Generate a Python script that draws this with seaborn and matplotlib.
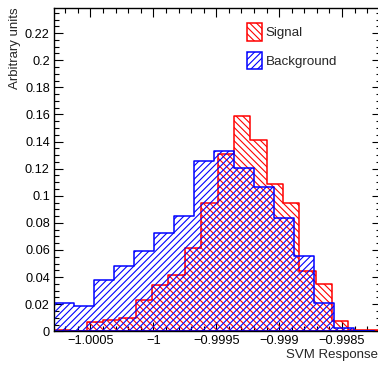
import numpy as np
import pandas as pd
import matplotlib
matplotlib.use("Agg")
import matplotlib.pyplot as plt
import seaborn as sns
from matplotlib.patches import Patch
from matplotlib.ticker import FixedLocator, FixedFormatter, MultipleLocator

# ---- data ----
x_min = -1.00079
signal_max = -0.99819
background_max = -0.998246
signal_values = [0.001, 0.0, 0.0071, 0.0083, 0.0096, 0.0231, 0.0339, 0.0413,
                 0.0614, 0.0943, 0.1307, 0.1589, 0.141, 0.1088, 0.0943, 0.0445,
                 0.0349, 0.0078, 0.0013, 0.001]
background_values = [0.0206, 0.0186, 0.0376, 0.0479, 0.0592, 0.0724, 0.0852,
                     0.126, 0.1331, 0.1201, 0.1066, 0.0833, 0.0555, 0.0211,
                     0.0022, 0.0]
x_ticks = [-1.0005, -1.0, -0.9995, -0.999, -0.9985]
x_tick_labels = ["\u22121.0005", "\u22121", "\u22120.9995", "\u22120.999", "\u22120.9985"]
y_ticks = [0, 0.02, 0.04, 0.06, 0.08, 0.1, 0.12, 0.14, 0.16, 0.18, 0.2, 0.22]
y_tick_labels = ["0", "0.02", "0.04", "0.06", "0.08", "0.1", "0.12", "0.14",
                 "0.16", "0.18", "0.2", "0.22"]
y_top = 0.2385
series_names = ["Signal", "Background"]
x_label = "SVM Response"
y_label = "Arbitrary units"

sns.set_style("ticks")
plt.rcParams["font.family"] = ["Liberation Sans", "DejaVu Sans"]
plt.rcParams["hatch.linewidth"] = 0.8

sig_edges = np.linspace(x_min, signal_max, len(signal_values) + 1)
bkg_edges = np.linspace(x_min, background_max, len(background_values) + 1)
sig_df = pd.DataFrame({"x": (sig_edges[:-1] + sig_edges[1:]) / 2, "w": signal_values})
bkg_df = pd.DataFrame({"x": (bkg_edges[:-1] + bkg_edges[1:]) / 2, "w": background_values})

fig = plt.figure(figsize=(3.78, 3.65), dpi=100)
ax = fig.add_axes([54 / 378, (365 - 331.3) / 365, (381 - 54) / 378, (331.3 - 8) / 365])

sig_hatch = "\\" * 5
bkg_hatch = "/" * 5
sns.histplot(data=sig_df, x="x", weights="w", bins=sig_edges.tolist(), element="step",
             fill=True, color="#ff0000", facecolor="none", edgecolor="#ff0000",
             hatch=sig_hatch, linewidth=1.1, alpha=1, ax=ax)
sns.histplot(data=bkg_df, x="x", weights="w", bins=bkg_edges.tolist(), element="step",
             fill=True, color="#0000ff", facecolor="none", edgecolor="#0000ff",
             hatch=bkg_hatch, linewidth=1.1, alpha=1, ax=ax)

ax.set_xlim(x_min, signal_max)
ax.set_ylim(0, y_top)

ax.xaxis.set_major_locator(FixedLocator(x_ticks))
ax.xaxis.set_major_formatter(FixedFormatter(x_tick_labels))
ax.xaxis.set_minor_locator(MultipleLocator(0.0001))
ax.yaxis.set_major_locator(FixedLocator(y_ticks))
ax.yaxis.set_major_formatter(FixedFormatter(y_tick_labels))
ax.yaxis.set_minor_locator(MultipleLocator(0.005))

ax.tick_params(which="both", direction="in", top=True, right=True,
               labelsize=9.2, colors="black", width=0.8)
ax.tick_params(which="major", length=6.5, pad=3)
ax.tick_params(which="minor", length=3.3)
for s in ax.spines.values():
    s.set_linewidth(1.0)
    s.set_color("black")

ax.set_xlabel(x_label, loc="right", fontsize=9.5)
ax.set_ylabel(y_label, loc="top", fontsize=9.5)
ax.xaxis.set_label_coords((378 - 54) / 327, -0.056)
ax.yaxis.set_label_coords(-0.10, 1.003)

handles = [
    Patch(facecolor="none", edgecolor="#ff0000", hatch=sig_hatch, linewidth=1.1, label=series_names[0]),
    Patch(facecolor="none", edgecolor="#0000ff", hatch=bkg_hatch, linewidth=1.1, label=series_names[1]),
]
ax.legend(handles=handles, loc="upper left", bbox_to_anchor=(247 / 378, 1 - 23.5 / 365),
          bbox_transform=fig.transFigure, frameon=False, borderpad=0,
          borderaxespad=0, handlelength=1.13, handleheight=1.6,
          handletextpad=0.25, labelspacing=0.85, fontsize=9.6)

fig.savefig("out.png", dpi=100)
